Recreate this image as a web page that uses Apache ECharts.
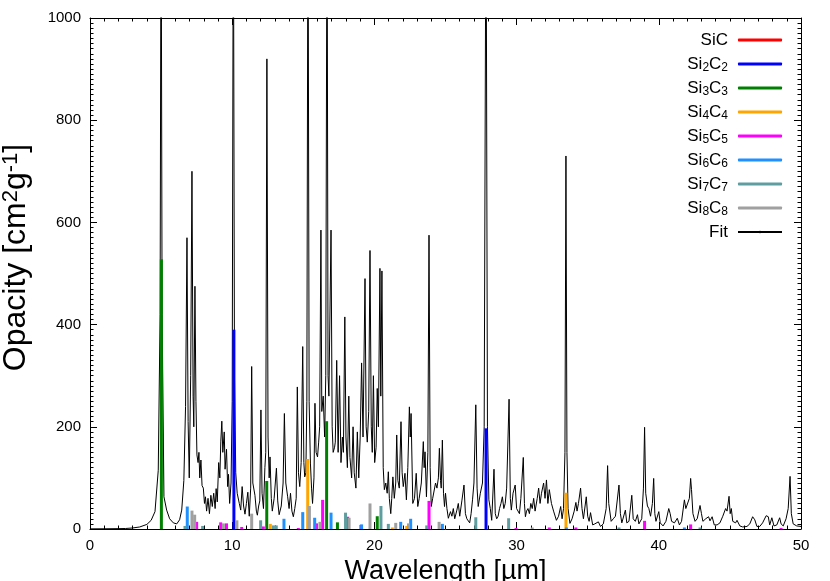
<!DOCTYPE html>
<html>
<head>
<meta charset="utf-8">
<title>Opacity</title>
<script src="https://cdn.jsdelivr.net/npm/echarts@6/dist/echarts.min.js"></script>
<style>
html, body { margin: 0; padding: 0; background: #fff; }
#chart { width: 830px; height: 581px; }
</style>
</head>
<body>
<div id="chart"></div>
<script>
// stick heights [wavelength, opacity] for each cluster size
var sic = [];
var si2c2 = [[10.12, 390], [27.85, 197]];
var si3c3 = [[5.02, 528], [12.43, 94], [16.64, 211], [17.4, 13], [20.2, 25]];
var si4c4 = [[12.68, 10], [15.31, 137], [21.26, 3], [22.27, 6], [33.47, 71]];
var si5c5 = [[7.5, 14], [9.19, 13], [9.6, 11], [10.67, 4], [12.19, 5], [14.65, 2], [15.93, 11],
	[16.36, 57], [18.12, 24], [19.05, 8], [23.84, 55], [29.96, 2], [32.3, 3], [34.17, 3],
	[39.0, 16], [42.24, 9], [48.6, 2]];
var si6c6 = [[6.84, 44], [13.64, 20], [14.96, 33], [15.8, 22], [16.95, 32], [19.1, 9], [21.85, 14],
	[22.55, 20], [24.78, 10], [33.5, 3], [41.8, 3]];
var si7c7 = [[6.68, 6], [7.92, 6], [12.0, 17], [12.9, 7], [13.1, 7], [17.97, 32], [20.46, 45],
	[20.98, 10], [23.68, 7], [27.13, 23], [29.44, 21], [37.2, 3], [42.9, 3]];
var si8c8 = [[7.17, 36], [7.36, 28], [9.38, 11], [10.33, 17], [11.37, 30], [15.43, 45], [16.17, 14],
	[18.22, 22], [19.69, 50], [21.5, 12], [22.4, 11], [24.55, 14], [31.1, 3]];

// fitted spectrum, points (peaks and valleys)
var fit = [[0,0.3],[1,0.4],[2,0.7],[2.5,1],[3,2],[3.5,4],[4,9],[4.3,17],[4.57,34],[4.8,115],[4.93,420],
	[5.0,1300],[5.07,420],[5.2,63],[5.39,37],[5.6,20],[5.86,12],[6.1,10],[6.3,18],[6.45,37],[6.6,95],
	[6.72,240],[6.82,570],[6.9,210],[6.98,100],[7.08,300],[7.17,700],[7.25,260],[7.3,200],[7.38,475],
	[7.45,250],[7.52,145],[7.6,130],[7.66,150],[7.72,100],[7.8,135],[7.88,85],[7.97,80],[8.05,50],
	[8.12,63],[8.2,35],[8.3,60],[8.4,30],[8.5,66],[8.6,44],[8.7,70],[8.8,40],[8.87,79],[8.95,53],
	[9.05,130],[9.13,100],[9.2,172],[9.27,211],[9.34,150],[9.44,190],[9.5,117],[9.6,156],[9.68,83],
	[9.74,107],[9.82,50],[9.92,90],[10.0,250],[10.08,1300],[10.16,300],[10.25,110],[10.35,70],
	[10.5,50],[10.6,37],[10.7,83],[10.8,45],[10.9,29],[11.0,50],[11.1,72],[11.2,25],[11.3,80],
	[11.37,318],[11.45,90],[11.6,66],[11.7,35],[11.77,27],[11.86,45],[11.94,55],[12.02,233],
	[12.1,70],[12.2,40],[12.3,120],[12.36,150],[12.44,920],[12.52,180],[12.6,100],[12.66,141],
	[12.75,60],[12.82,35],[12.95,60],[13.11,119],[13.2,55],[13.3,28],[13.45,45],[13.58,90],
	[13.67,226],[13.77,90],[13.9,63],[14.0,40],[14.1,70],[14.2,35],[14.3,24],[14.4,40],[14.5,60],
	[14.58,278],[14.66,110],[14.75,83],[14.85,130],[14.96,357],[15.04,130],[15.1,102],[15.18,110],
	[15.25,250],[15.33,1300],[15.41,250],[15.5,129],[15.58,80],[15.65,50],[15.75,100],[15.82,246],
	[15.9,150],[16.0,141],[16.08,170],[16.15,200],[16.24,585],[16.3,230],[16.4,260],[16.5,180],
	[16.58,300],[16.67,1300],[16.74,300],[16.8,260],[16.95,585],[17.03,200],[17.1,150],[17.2,160],
	[17.25,170],[17.35,330],[17.45,150],[17.55,300],[17.65,130],[17.75,180],[17.82,150],[17.92,415],
	[18.0,180],[18.1,120],[18.2,260],[18.28,140],[18.4,100],[18.5,200],[18.58,110],[18.7,80],
	[18.8,190],[18.9,100],[19.0,180],[19.1,325],[19.2,180],[19.34,490],[19.42,200],[19.5,170],
	[19.6,230],[19.69,545],[19.78,200],[19.85,150],[19.93,300],[20.02,130],[20.12,160],[20.2,275],
	[20.28,200],[20.39,510],[20.45,260],[20.53,505],[20.62,120],[20.7,77],[20.8,90],[20.9,70],
	[20.98,112],[21.05,60],[21.15,30],[21.22,60],[21.3,102],[21.4,60],[21.5,90],[21.57,184],
	[21.65,95],[21.75,80],[21.87,210],[21.95,110],[22.03,83],[22.15,109],[22.25,57],[22.35,120],
	[22.46,239],[22.52,180],[22.58,226],[22.7,50],[22.82,60],[22.94,109],[23.05,44],[23.15,60],
	[23.3,90],[23.44,171],[23.5,120],[23.56,151],[23.66,63],[23.76,150],[23.84,575],[23.92,120],
	[24.0,44],[24.1,60],[24.2,57],[24.3,90],[24.4,80],[24.5,100],[24.57,158],[24.65,95],[24.7,80],
	[24.78,174],[24.86,70],[24.93,44],[25.0,70],[25.1,40],[25.2,21],[25.35,34],[25.45,25],
	[25.55,40],[25.65,20],[25.8,37],[25.9,50],[26.0,25],[26.15,55],[26.3,86],[26.4,30],[26.5,20],
	[26.6,17],[26.7,12],[26.8,30],[26.9,57],[27.0,90],[27.13,243],[27.22,80],[27.3,44],[27.45,70],
	[27.6,90],[27.72,200],[27.85,1300],[27.95,200],[28.05,57],[28.15,40],[28.25,17],[28.41,117],
	[28.5,30],[28.6,20],[28.7,25],[28.8,40],[28.9,50],[29.0,63],[29.1,40],[29.2,50],[29.3,80],
	[29.47,254],[29.56,60],[29.63,37],[29.75,70],[29.9,86],[30.0,40],[30.2,30],[30.3,60],[30.47,140],
	[30.55,50],[30.62,24],[30.7,35],[30.8,40],[30.9,30],[31.0,50],[31.1,40],[31.2,60],[31.3,35],
	[31.45,60],[31.55,80],[31.65,50],[31.75,70],[31.9,90],[32.0,60],[32.1,96],[32.2,50],[32.3,77],
	[32.45,50],[32.6,35],[32.8,17],[32.95,25],[33.1,44],[33.2,20],[33.3,40],[33.4,150],[33.47,730],
	[33.54,150],[33.62,40],[33.75,11],[33.9,20],[34.05,35],[34.17,52],[34.25,35],[34.35,50],
	[34.5,80],[34.6,40],[34.7,20],[34.9,63],[35.0,25],[35.1,15],[35.2,32],[35.35,8],[35.5,10],
	[35.75,14],[35.9,5],[36.1,10],[36.3,40],[36.4,124],[36.48,50],[36.55,48],[36.65,15],[36.8,20],
	[36.95,25],[37.2,86],[37.3,30],[37.4,12],[37.65,37],[37.75,12],[37.9,15],[38.1,66],[38.2,20],
	[38.35,15],[38.5,28],[38.6,10],[38.8,20],[38.92,80],[39.0,199],[39.08,70],[39.2,45],[39.3,40],
	[39.42,25],[39.55,50],[39.64,99],[39.72,30],[39.8,15],[40.0,34],[40.1,12],[40.3,6],[40.5,15],
	[40.7,40],[40.8,30],[40.9,15],[41.1,12],[41.3,21],[41.45,8],[41.6,15],[41.8,57],[41.9,40],
	[42.0,37],[42.15,60],[42.24,99],[42.3,77],[42.4,30],[42.55,15],[42.7,20],[42.9,46],[43.0,30],
	[43.1,15],[43.3,20],[43.5,24],[43.6,16],[43.75,24],[43.9,8],[44.1,8],[44.3,12],[44.5,25],
	[44.7,40],[44.8,35],[44.94,64],[45.02,30],[45.1,40],[45.2,15],[45.4,12],[45.5,17],[45.7,6],
	[45.9,4],[46.2,5],[46.4,10],[46.6,24],[46.75,18],[46.9,5],[47.1,5],[47.3,12],[47.55,26],
	[47.7,24],[47.8,8],[47.95,22],[48.1,6],[48.3,8],[48.5,22],[48.6,10],[48.75,6],[48.95,20],
	[49.1,40],[49.23,103],[49.32,30],[49.45,10],[49.7,6],[50,5]];

var stickNames = ["SiC", "Si2C2", "Si3C3", "Si4C4", "Si5C5", "Si6C6", "Si7C7", "Si8C8"];
var stickData = [sic, si2c2, si3c3, si4c4, si5c5, si6c6, si7c7, si8c8];
var stickColors = ["#ff0000", "#0000ff", "#008000", "#ffa500", "#ff00ff", "#1e90ff", "#5f9ea0", "#a0a0a0"];

var FONT = "'Liberation Sans', Arial, Helvetica, sans-serif";

function subName(name) {
	return name.replace(/(\d)/g, "{s|$1}");
}

function mirrorAxis(type, pos, showLabel) {
	return {
		type: "value",
		position: pos,
		min: 0,
		max: type == "x" ? 50 : 1000,
		interval: type == "x" ? 10 : 200,
		axisLine: { show: true, onZero: false, lineStyle: { color: "#000", width: 1 } },
		axisTick: { show: true, inside: true, length: 7, lineStyle: { color: "#000" } },
		minorTick: { show: true, splitNumber: type == "x" ? 10 : 20, length: 3.5, lineStyle: { color: "#000" } },
		splitLine: { show: false },
		axisLabel: {
			show: showLabel, color: "#000", fontFamily: FONT, fontSize: 15, margin: 9,
			formatter: function (v) { return String(v); }
		}
	};
}

var series = [];
series.push({
	name: "Fit",
	type: "line",
	data: fit,
	symbol: "none",
	clip: true,
	z: 2,
	lineStyle: { color: "#000", width: 1 },
	itemStyle: { color: "#000" }
});
for (var i = 0; i < stickNames.length; i++) {
	series.push({
		name: stickNames[i],
		type: "bar",
		data: stickData[i],
		barWidth: 3,
		barGap: "-100%",
		z: 3,
		itemStyle: { color: stickColors[i] }
	});
}

var xBottom = mirrorAxis("x", "bottom", true);
xBottom.name = "Wavelength [µm]";
xBottom.nameLocation = "middle";
xBottom.nameGap = 22;
xBottom.nameTextStyle = { color: "#000", fontFamily: FONT, fontSize: 27 };

var yLeft = mirrorAxis("y", "left", true);
yLeft.name = "Opacity [cm{sup|2}g{sup|-1}]";
yLeft.nameLocation = "middle";
yLeft.nameGap = 58;
yLeft.nameTextStyle = {
	color: "#000", fontFamily: FONT, fontSize: 32, padding: [0, 0, 0, 32],
	rich: { sup: { fontSize: 22, verticalAlign: "top", fontFamily: FONT, color: "#000" } }
};

var legendData = stickNames.map(function (n) { return { name: n }; });
legendData.push({ name: "Fit" });

var chart = echarts.init(document.getElementById("chart"), null, { renderer: "canvas" });
chart.setOption({
	animation: false,
	backgroundColor: "#fff",
	grid: { left: 90, right: 29, top: 18, bottom: 52, containLabel: false, outerBoundsMode: "none" },
	xAxis: [xBottom, mirrorAxis("x", "top", false)],
	yAxis: [yLeft, mirrorAxis("y", "right", false)],
	legend: {
		orient: "vertical",
		right: 42,
		top: 25,
		align: "right",
		itemWidth: 44,
		itemHeight: 3,
		itemGap: 4,
		data: legendData,
		formatter: subName,
		textStyle: {
			color: "#000", fontFamily: FONT, fontSize: 17, lineHeight: 20, padding: [0, 5, 0, 0],
			rich: { s: { fontSize: 12, lineHeight: 20, verticalAlign: "bottom", padding: [7, 0, 0, 0], fontFamily: FONT, color: "#000" } }
		}
	},
	series: series
});
</script>
</body>
</html>
